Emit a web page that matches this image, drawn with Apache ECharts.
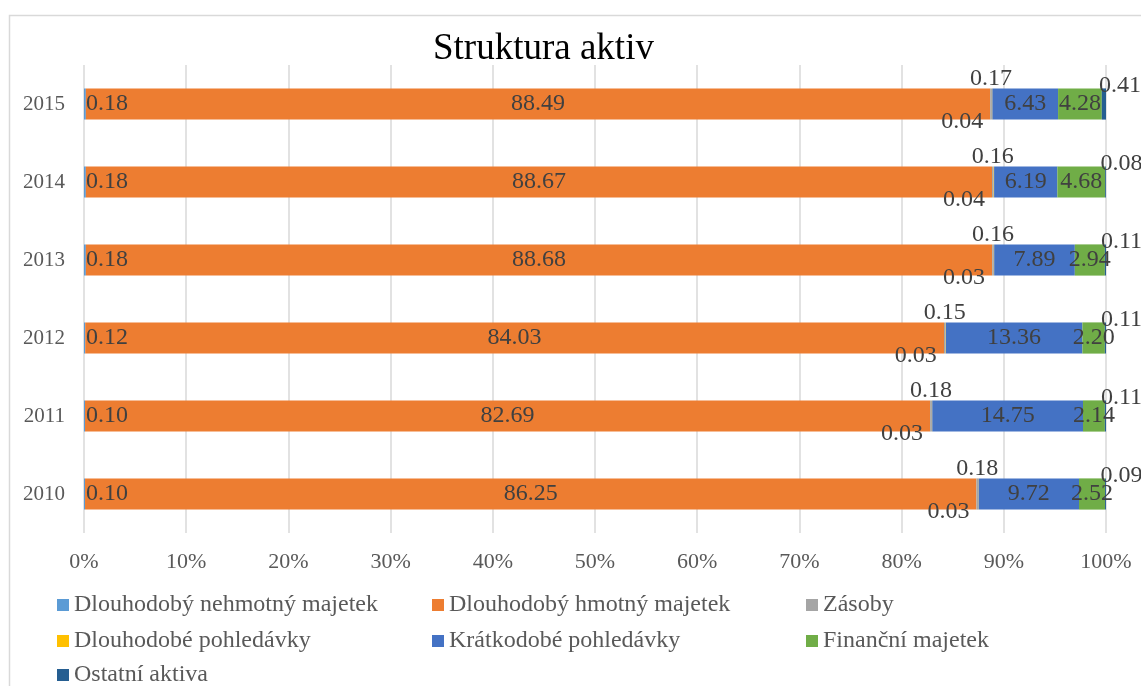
<!DOCTYPE html>
<html>
<head>
<meta charset="utf-8">
<script src="https://cdn.jsdelivr.net/npm/echarts@6/dist/echarts.min.js"></script>
<style>
  html, body { margin: 0; padding: 0; background: #fff; }
  #chart { width: 1141px; height: 686px; }
</style>
</head>
<body>
<div id="chart"></div>
<script>
let years = ['2010', '2011', '2012', '2013', '2014', '2015'];
let seriesNames = [
    'Dlouhodobý nehmotný majetek',
    'Dlouhodobý hmotný majetek',
    'Zásoby',
    'Dlouhodobé pohledávky',
    'Krátkodobé pohledávky',
    'Finanční majetek',
    'Ostatní aktiva'
];
let nehmotny = [0.10, 0.10, 0.12, 0.18, 0.18, 0.18];
let hmotny = [86.25, 82.69, 84.03, 88.68, 88.67, 88.49];
let zasoby = [0.18, 0.18, 0.15, 0.16, 0.16, 0.17];
let dlPohledavky = [0.03, 0.03, 0.03, 0.03, 0.04, 0.04];
let krPohledavky = [9.72, 14.75, 13.36, 7.89, 6.19, 6.43];
let financni = [2.52, 2.14, 2.20, 2.94, 4.68, 4.28];
let ostatni = [0.09, 0.11, 0.11, 0.11, 0.08, 0.41];
let xTicks = [0, 10, 20, 30, 40, 50, 60, 70, 80, 90, 100];

let colors = ['#5B9BD5', '#ED7D31', '#A5A5A5', '#FFC000', '#4472C4', '#70AD47', '#255E91'];
let values = [nehmotny, hmotny, zasoby, dlPohledavky, krPohledavky, financni, ostatni];

/* 100% skladany graf - soucty za rok */
let totals = years.map(function (y, j) {
    return values.reduce(function (s, arr) { return s + arr[j]; }, 0);
});

let font = '"Liberation Serif", "Times New Roman", serif';

/* pozice popisku podle rady */
let labelPos = [
    {position: 'insideLeft', distance: 2},
    {position: 'inside'},
    {position: 'top', distance: 0, offset: [0, 2]},
    {position: 'bottom', distance: 0, offset: [-30, -10]},
    {position: 'inside'},
    {position: 'inside'},
    {position: 'top', distance: 0, offset: [16, 9]}
];

let series = seriesNames.map(function (name, i) {
    return {
        name: name,
        type: 'bar',
        stack: 'total',
        barCategoryGap: '60%',
        itemStyle: {color: colors[i]},
        label: Object.assign({
            show: true,
            color: '#404040',
            fontFamily: font,
            fontSize: 24,
            formatter: function (p) { return values[i][p.dataIndex].toFixed(2); }
        }, labelPos[i]),
        data: values[i].map(function (v, j) { return v / totals[j] * 100; })
    };
});

/* legenda ve trech sloupcich */
let legendSlots = [
    [57, 593], [432, 593], [806, 593],
    [57, 629], [432, 629], [806, 629],
    [57, 663]
];
let legends = seriesNames.map(function (name, i) {
    return {
        data: [name],
        left: legendSlots[i][0],
        top: legendSlots[i][1],
        padding: 0,
        itemWidth: 12,
        itemHeight: 12,
        icon: 'rect',
        textStyle: {color: '#595959', fontFamily: font, fontSize: 24}
    };
});

let chart = echarts.init(document.getElementById('chart'));
let option = {
    backgroundColor: '#fff',
    animation: false,
    title: {
        text: 'Struktura aktiv',
        left: 428,
        top: 26,
        textStyle: {color: '#000', fontFamily: font, fontSize: 37, fontWeight: 'normal'}
    },
    graphic: [{
        type: 'rect',
        shape: {x: 9.5, y: 15.5, width: 1200, height: 700},
        style: {fill: 'none', stroke: '#D9D9D9', lineWidth: 1.5},
        silent: true,
        z: -1
    }],
    grid: {left: 84, right: 35, top: 65, height: 468},
    xAxis: {
        type: 'value',
        min: xTicks[0],
        max: xTicks[xTicks.length - 1],
        interval: 10,
        axisLine: {show: false},
        axisTick: {show: false},
        splitLine: {lineStyle: {color: '#D9D9D9', width: 1.5}},
        axisLabel: {
            formatter: '{value}%',
            color: '#595959',
            fontFamily: font,
            fontSize: 22,
            margin: 18
        }
    },
    yAxis: {
        type: 'category',
        data: years,
        axisLine: {show: false},
        axisTick: {show: false},
        axisLabel: {color: '#595959', fontFamily: font, fontSize: 21, margin: 19}
    },
    legend: legends,
    series: series
};
chart.setOption(option);
</script>
</body>
</html>
